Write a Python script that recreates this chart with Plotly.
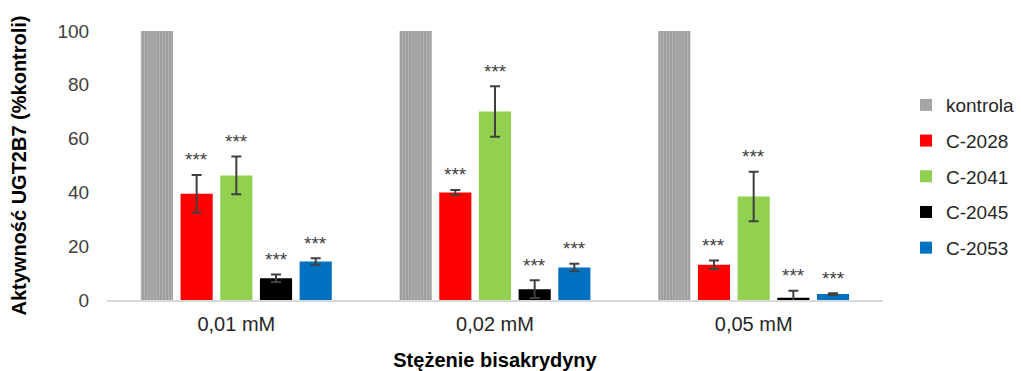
import plotly.graph_objects as go

categories = ["0,01 mM", "0,02 mM", "0,05 mM"]
series_names = ["kontrola", "C-2028", "C-2041", "C-2045", "C-2053"]
kontrola = [100, 100, 100]
c2028 = [39.5, 40.0, 13.1]
c2041 = [46.3, 70.1, 38.5]
c2045 = [8.1, 4.0, 0.8]
c2053 = [14.3, 12.1, 2.2]
err_kontrola = [0, 0, 0]
err_c2028 = [7.0, 0.9, 1.6]
err_c2041 = [7.0, 9.4, 9.2]
err_c2045 = [1.4, 3.3, 2.6]
err_c2053 = [1.2, 1.4, 0.3]
significance = [None, "***", "***", "***", "***"]

values = [kontrola, c2028, c2041, c2045, c2053]
errors = [err_kontrola, err_c2028, err_c2041, err_c2045, err_c2053]
colors = ["#a6a6a6", "#ff0000", "#92d050", "#000000", "#0070c0"]

# page body has an 8px default margin, so the figure is drawn 8px in
W, H = 1022, 363
ML, MR, MT, MB = 99, 147, 23, 71
BARGAP = 0.233
GROUPGAP = 0.19
plot_w = W - ML - MR
slot_px = plot_w / len(categories) * (1 - BARGAP) / len(series_names)
FONT = "Liberation Sans, Arial, sans-serif"

fig = go.Figure()
for k, (name, vals, errs, col) in enumerate(zip(series_names, values, errors, colors)):
    marker = dict(color=col, line=dict(width=0))
    if k == 0:
        marker["pattern"] = dict(shape="|", fgcolor="#c4c4c4", bgcolor="#a0a0a0",
                                 size=3, solidity=0.35)
    fig.add_trace(go.Bar(
        x=categories, y=vals, name=name, marker=marker,
        legendgroup=name,
        error_y=dict(type="data", array=errs, visible=(k != 0),
                     color="#404040", thickness=2, width=5),
    ))
    if significance[k]:
        for i, cat in enumerate(categories):
            fig.add_annotation(
                x=cat, y=vals[i] + errs[i], xref="x", yref="y",
                text=significance[k], showarrow=False,
                xshift=(k - (len(series_names) - 1) / 2) * slot_px,
                yshift=15, font=dict(size=19, color="#404040", family=FONT),
            )

fig.update_layout(
    width=W, height=H,
    margin=dict(l=ML, r=MR, t=MT, b=MB, pad=0),
    barmode="group", bargap=BARGAP, bargroupgap=GROUPGAP,
    plot_bgcolor="white", paper_bgcolor="white",
    font=dict(family=FONT, size=19, color="#404040"),
    showlegend=True,
    legend=dict(xref="container", x=0.9902, xanchor="right",
                y=0.7955, yanchor="top",
                font=dict(size=19, color="#262626"),
                tracegroupgap=8, itemwidth=30, bgcolor="rgba(0,0,0,0)"),
)
fig.update_yaxes(
    range=[0, 100], tickvals=[0, 20, 40, 60, 80, 100], automargin=False,
    showgrid=False, zeroline=False, showline=False,
    ticks="outside", ticklen=13, tickcolor="rgba(0,0,0,0)",
    tickfont=dict(size=19, color="#404040"),
    title=dict(text="<b>Aktywność UGT2B7 (%kontroli)</b>", standoff=31,
               font=dict(size=20, color="#000000")),
)
fig.update_xaxes(
    showgrid=False, showline=True, linecolor="#d9d9d9", linewidth=2,
    automargin=False,
    ticks="outside", ticklen=5, tickcolor="rgba(0,0,0,0)",
    tickfont=dict(size=20, color="#262626"),
    title=dict(text="<b>Stężenie bisakrydyny</b>", standoff=24,
               font=dict(size=20, color="#000000")),
)

fig.write_html("out.html")
